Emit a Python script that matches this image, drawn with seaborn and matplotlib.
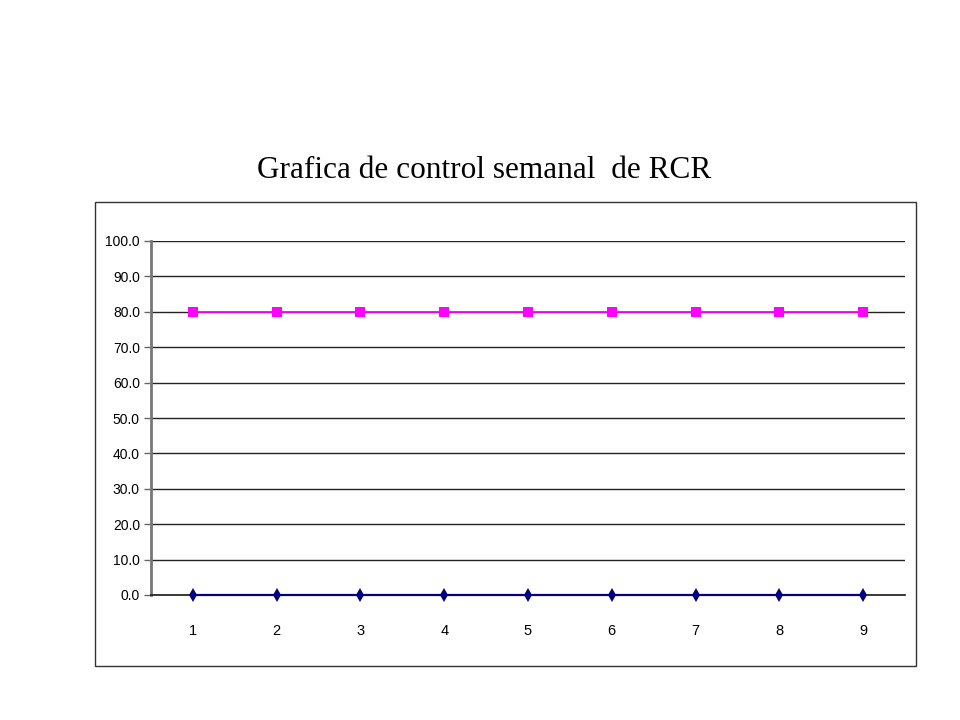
import numpy as np
import pandas as pd
import matplotlib
matplotlib.use('Agg')
import matplotlib.pyplot as plt
import seaborn as sns
from matplotlib.patches import Rectangle

semanas = [1, 2, 3, 4, 5, 6, 7, 8, 9]
rcr = [0.0, 0.0, 0.0, 0.0, 0.0, 0.0, 0.0, 0.0, 0.0]
meta = [80.0, 80.0, 80.0, 80.0, 80.0, 80.0, 80.0, 80.0, 80.0]
titulo = 'Grafica de control semanal  de RCR'

sns.set_theme(style='white')
plt.rcParams['font.family'] = ['Liberation Sans Narrow', 'Liberation Sans', 'DejaVu Sans']

df = pd.DataFrame({'semana': semanas * 2,
                   'valor': rcr + meta,
                   'serie': ['RCR'] * len(semanas) + ['Meta'] * len(semanas)})

fig = plt.figure(figsize=(9.6, 7.2), dpi=100)
# chart area border (excel style)
fig.patches.append(Rectangle((95 / 960, 1 - 666 / 720), (916 - 95) / 960, (666 - 202) / 720,
                             transform=fig.transFigure, fill=False, edgecolor='#333333', linewidth=1.0))
ax = fig.add_axes([151 / 960, 1 - 595 / 720, (905 - 151) / 960, (595 - 241) / 720])

sns.lineplot(data=df, x='semana', y='valor', hue='serie', style='serie',
             palette={'RCR': '#000080', 'Meta': '#FF00FF'},
             markers={'RCR': 'd', 'Meta': 's'}, dashes=False,
             markersize=6.5, linewidth=1.3, markeredgewidth=0, legend=False, ax=ax,
             zorder=3, clip_on=False)
# diamonds a bit taller, navy line a bit heavier
for ln in ax.lines:
    if ln.get_marker() == 'd':
        ln.set_markersize(7.5)
        ln.set_linewidth(1.6)

ax.set_xlim(0.5, 9.5)
ax.set_ylim(0, 100)
ax.set_yticks(np.arange(0, 101, 10))
ax.set_yticklabels(['{:.1f}'.format(v) for v in np.arange(0, 101, 10)], fontsize=10, color='black')
ax.yaxis.grid(True, color='#222222', linewidth=1.0)
ax.set_axisbelow(True)

ax.set_xticks(semanas)
ax.set_xticklabels([str(s) for s in semanas], fontsize=10.5, color='black')
ax.set_xticks(np.arange(0.5, 9.6, 1), minor=True)
ax.tick_params(axis='x', which='major', length=0, pad=21)
ax.tick_params(axis='x', which='minor', length=5, width=1, color='#222222', direction='out')
ax.tick_params(axis='y', length=5, width=1, color='#666666', direction='out', left=True, pad=3)

for s in ['top', 'right']:
    ax.spines[s].set_visible(False)
ax.spines['left'].set_color('#777777')
ax.spines['left'].set_linewidth(2)
ax.spines['bottom'].set_color('#222222')
ax.set_xlabel('')
ax.set_ylabel('')

fig.text(484 / 960, 1 - 170 / 720, titulo, ha='center', va='center', fontsize=22.5,
         color='black', family=['Liberation Serif', 'DejaVu Serif'])

fig.savefig('out.png', dpi=100)
